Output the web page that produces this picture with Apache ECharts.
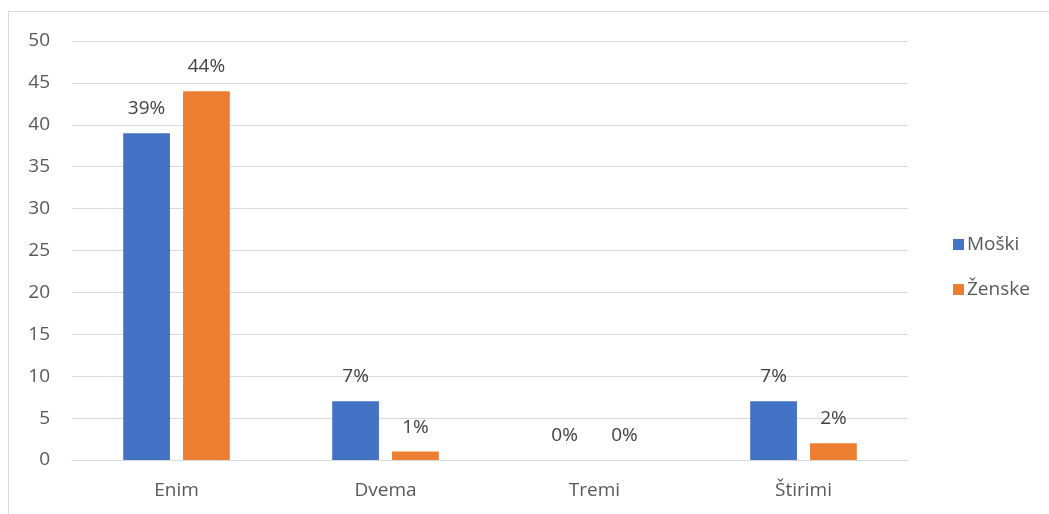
<!DOCTYPE html>
<html><head><meta charset="utf-8">
<script src="https://cdn.jsdelivr.net/npm/echarts@6/dist/echarts.min.js"></script>
<style>html,body{margin:0;padding:0;background:#fff}#c{width:1049px;height:514px}</style>
</head><body><div id="c"></div>
<script>
const categories = ['Enim', 'Dvema', 'Tremi', 'Štirimi'];
const seriesNames = ['Moški', 'Ženske'];
const moski = [39, 7, 0, 7];
const zenske = [44, 1, 0, 2];
const colors = ['#4472C4', '#ED7D31'];
const font = "'Open Sans', 'Noto Sans', sans-serif";

const chart = echarts.init(document.getElementById('c'));
const lbl = {show: true, position: 'top', distance: 15, formatter: '{c}%', color: '#404040', fontSize: 19, fontFamily: font};
chart.setOption({
  animation: false,
  textStyle: {fontFamily: font},
  graphic: [{type: 'rect', shape: {x: 8.5, y: 11.5, width: 1060, height: 520}, style: {fill: 'none', stroke: '#d9d9d9', lineWidth: 1}}],
  grid: {left: 72, right: 141, top: 41, bottom: 54, containLabel: false},
  legend: {
    orient: 'vertical', left: 948, top: 230, itemWidth: 11, itemHeight: 11, itemGap: 26,
    icon: 'rect', textStyle: {fontSize: 19, color: '#595959', fontFamily: font, padding: [0, 0, 0, -2]},
    data: seriesNames
  },
  xAxis: {
    type: 'category', data: categories,
    axisLine: {lineStyle: {color: '#d9d9d9', width: 1}},
    axisTick: {show: false},
    axisLabel: {color: '#595959', fontSize: 19, margin: 21, fontFamily: font}
  },
  yAxis: {
    type: 'value', min: 0, max: 50, interval: 5,
    axisLine: {show: false}, axisTick: {show: false},
    axisLabel: {color: '#595959', fontSize: 19, margin: 22, fontFamily: font},
    splitLine: {lineStyle: {color: '#d9d9d9', width: 1}}
  },
  series: [
    {name: seriesNames[0], type: 'bar', data: moski, itemStyle: {color: colors[0]}, barGap: '28%', barCategoryGap: '49%', label: lbl},
    {name: seriesNames[1], type: 'bar', data: zenske, itemStyle: {color: colors[1]}, barGap: '28%', barCategoryGap: '49%', label: lbl}
  ]
});
</script></body></html>
